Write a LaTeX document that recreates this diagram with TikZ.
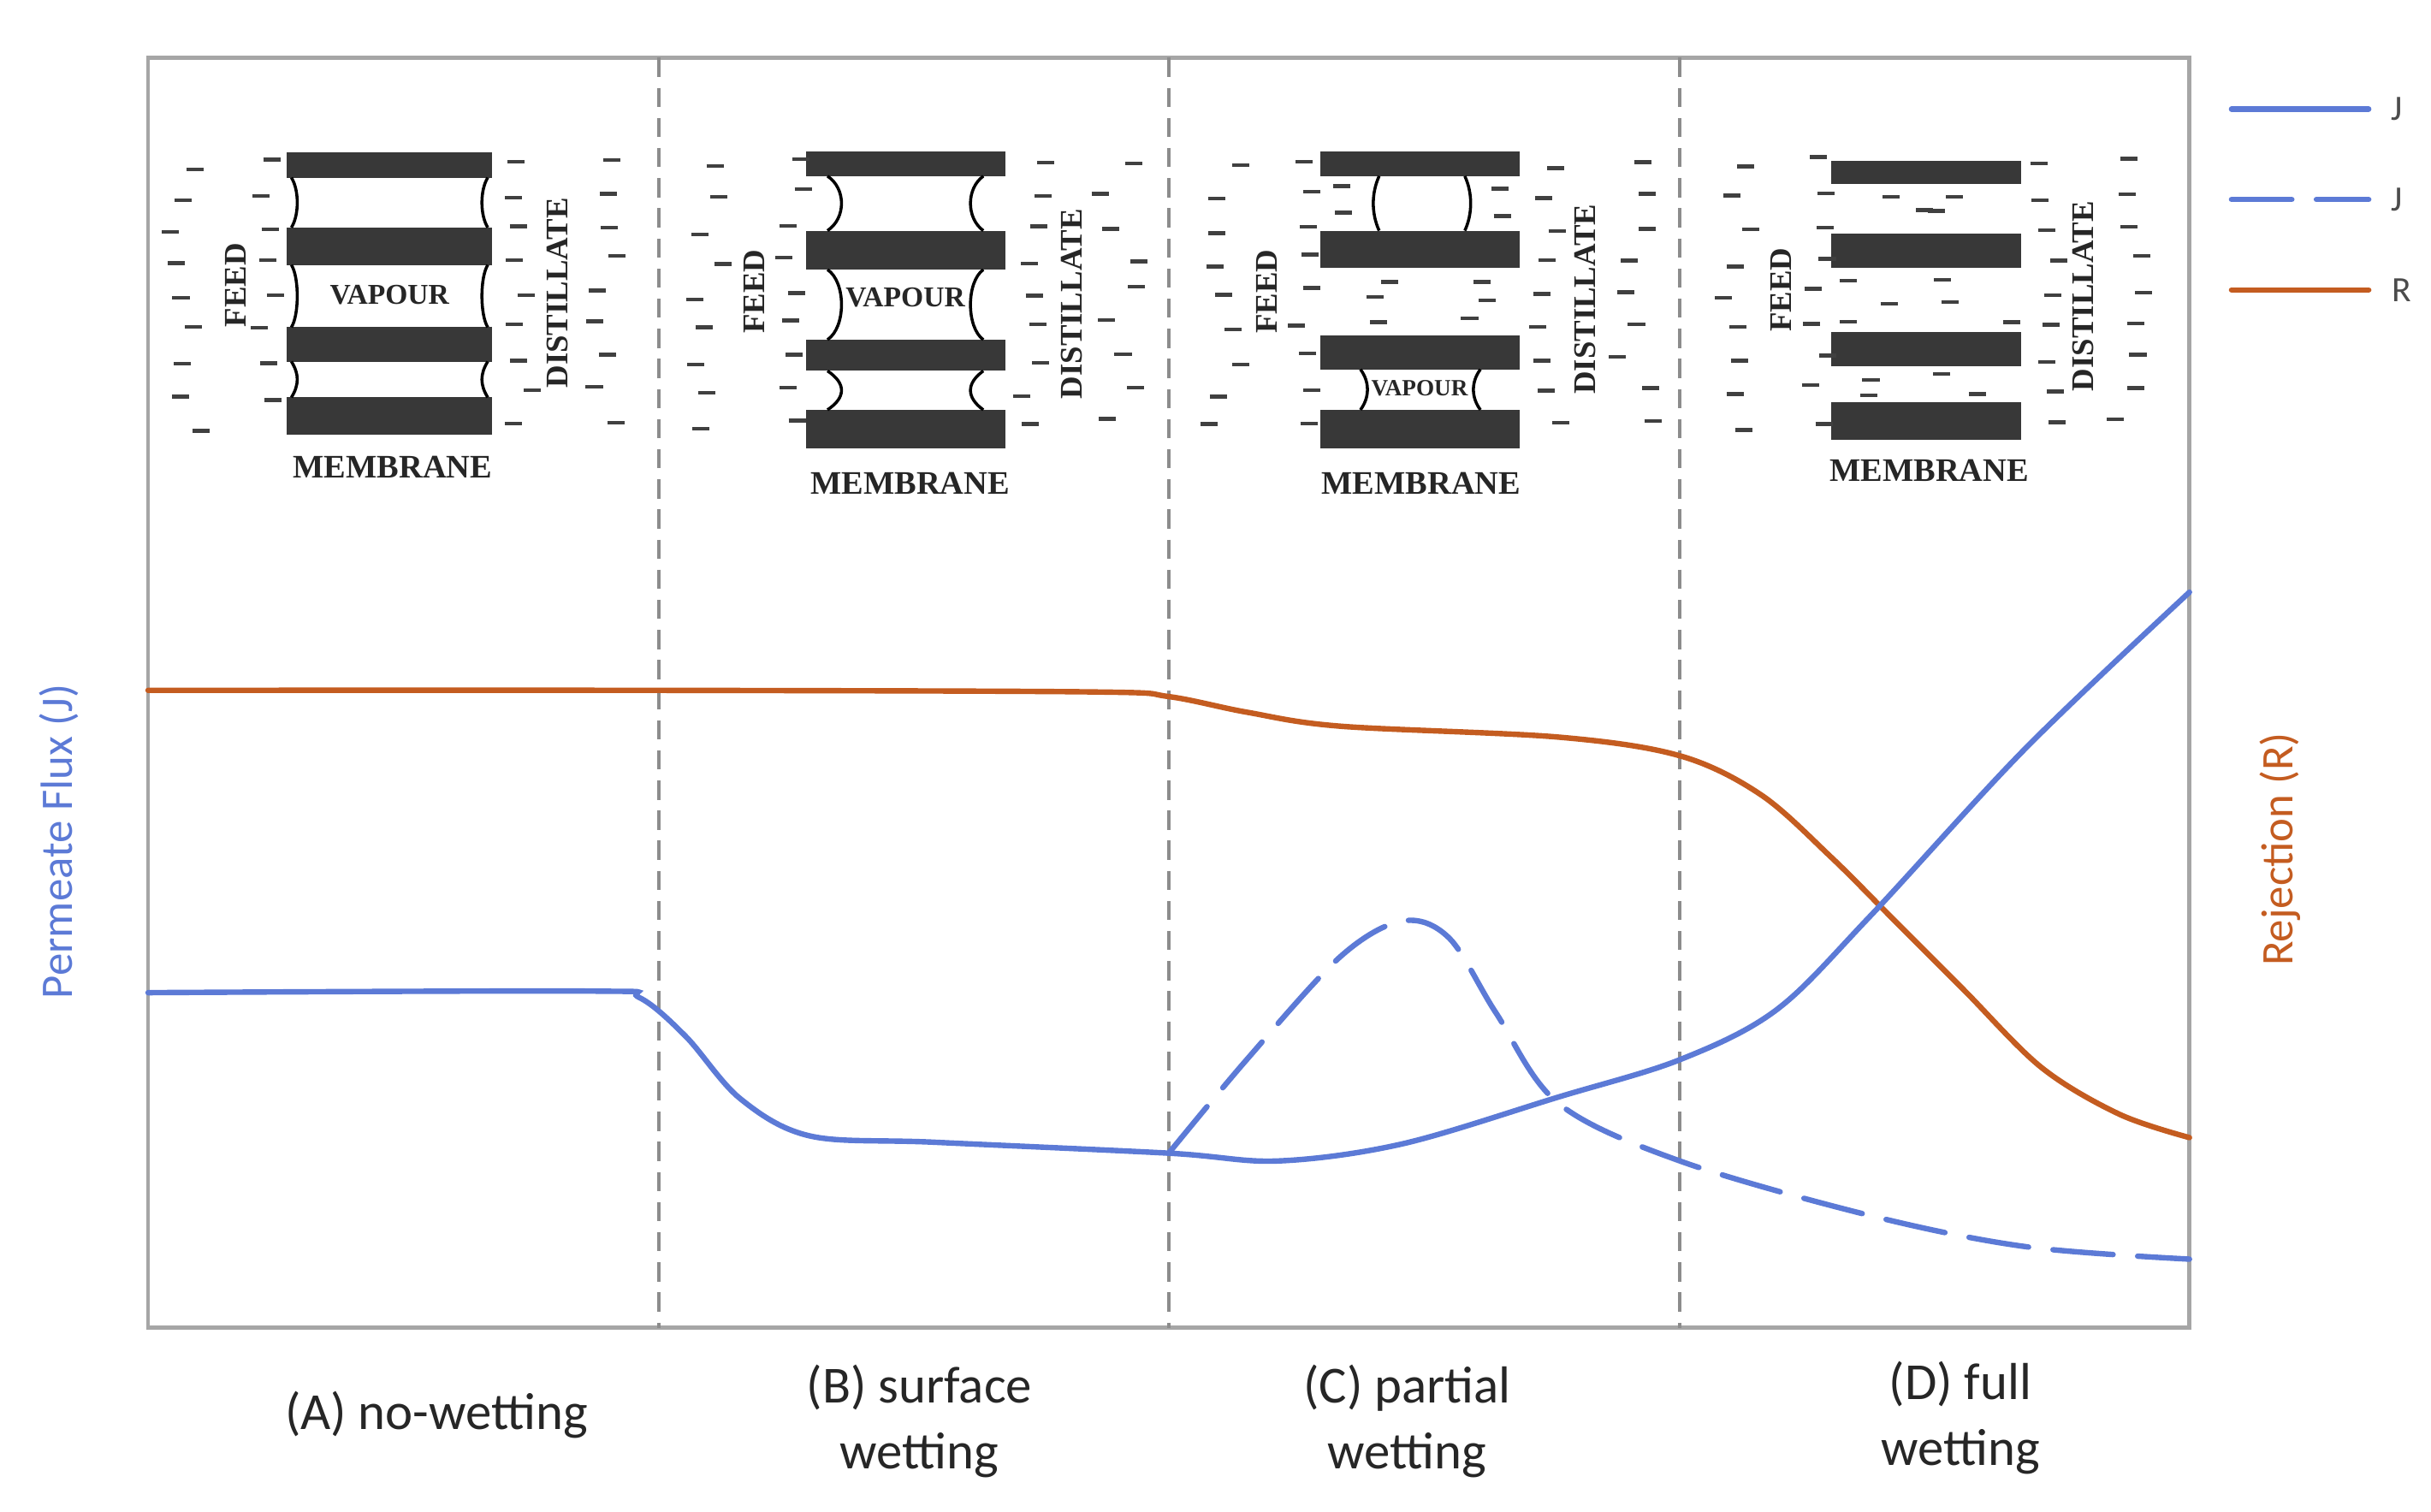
\documentclass[tikz,border=0pt]{standalone}
\usepackage{fontspec}
\setmainfont{Carlito}
\newfontfamily\mfont{Liberation Serif}
\begin{document}
\begin{tikzpicture}[x=0.02cm,y=-0.02cm,
  bar/.style={fill=black!78,draw=none},
  wall/.style={black,line width=1.1pt},
  dsh/.style={black!75,line width=1.4pt},
  mlab/.style={font=\mfont\bfseries\fontsize{12}{12}\selectfont,text=black!85},
  side/.style={font=\mfont\bfseries\fontsize{11.5}{12}\selectfont,text=black!85,rotate=90},
  divider/.style={black!45,line width=1.3pt,dash pattern=on 7pt off 4pt},
  curve/.style={line width=2pt,line cap=round},
  blab/.style={font=\fontsize{19}{24}\selectfont,align=center,text=black!85}]
\definecolor{jblue}{RGB}{92,122,214}
\definecolor{rorange}{RGB}{196,92,32}
\useasboundingbox (0,0) rectangle (1560,970);
% jittered rows of dashes: x1 x2 y1 y2 step
\newcommand\mydashes[5]{\foreach \yy in {#3,#4,...,#2}{}\pgfmathsetmacro\ystep{#3+#5}\foreach \yy in {#3,\ystep,...,#4}{\pgfmathsetmacro\px{#1+rnd*(#2-#1)}\pgfmathsetmacro\py{\yy+rnd*5}\draw[dsh] (\px,\py) -- ++(11,0);}}
\pgfmathsetseed{11}
% frame
\draw[black!35,line width=1.5pt] (95,37) rectangle (1405,852);
\foreach \xx in {423,750,1078}{\draw[divider] (\xx,37) -- (\xx,852);}
% ---------- Panel A
\foreach \ya/\yb in {98/114,146/170,210/232,255/279}{\fill[bar] (184,\ya) rectangle (316,\yb);}
\foreach \ya/\yb in {114/146,170/210,232/255}{
  \draw[wall] (187,\ya) .. controls (192,\ya+8) and (192,\yb-8) .. (187,\yb);
  \draw[wall] (313,\ya) .. controls (308,\ya+8) and (308,\yb-8) .. (313,\yb);}
\node[mlab,font=\mfont\bfseries\fontsize{10.5}{11}\selectfont] (va) at (250,189) {VAPOUR};
\node[mlab] (ma) at (252,300) {MEMBRANE};
\node[side] (fa) at (151,183) {FEED};
\node[side] (da) at (358,188) {DISTILLATE};
\mydashes{103}{128}{104}{274}{21}
\mydashes{160}{172}{100}{272}{22}
\mydashes{322}{338}{103}{274}{21}
\mydashes{370}{395}{100}{272}{21}
% ---------- Panel B
\foreach \ya/\yb in {97/113,148/173,218/238,263/288}{\fill[bar] (517,\ya) rectangle (645,\yb);}
\foreach \ya/\yb in {113/148,173/218,238/263}{
  \draw[wall] (531,\ya) .. controls (543,\ya+8) and (543,\yb-8) .. (531,\yb);
  \draw[wall] (631,\ya) .. controls (620,\ya+8) and (620,\yb-8) .. (631,\yb);}
\node[mlab,font=\mfont\bfseries\fontsize{10.5}{11}\selectfont] (vb) at (581,191) {VAPOUR};
\node[mlab] (mb) at (584,310) {MEMBRANE};
\node[side] (fb) at (484,187) {FEED};
\node[side] (db) at (688,195) {DISTILLATE};
\mydashes{440}{466}{104}{280}{21}
\mydashes{497}{512}{100}{278}{21}
\mydashes{650}{666}{103}{280}{21}
\mydashes{700}{726}{100}{278}{21}
% ---------- Panel C
\foreach \ya/\yb in {97/113,148/172,215/237,263/288}{\fill[bar] (847,\ya) rectangle (975,\yb);}
\draw[wall] (885,113) .. controls (880,124) and (880,137) .. (885,148);
\draw[wall] (940,113) .. controls (945,124) and (945,137) .. (940,148);
\draw[wall] (873,237) .. controls (879,245) and (879,255) .. (873,263);
\draw[wall] (950,237) .. controls (944,245) and (944,255) .. (950,263);
\node[mlab,font=\mfont\bfseries\fontsize{8.5}{9}\selectfont] (vc) at (911,249) {VAPOUR};
\node[mlab] (mc) at (912,310) {MEMBRANE};
\node[side] (fc) at (813,187) {FEED};
\node[side] (dc) at (1017,192) {DISTILLATE};
\mydashes{770}{796}{104}{280}{21}
\mydashes{826}{840}{100}{278}{21}
\mydashes{980}{996}{103}{280}{21}
\mydashes{1030}{1056}{100}{278}{21}
\mydashes{852}{900}{178}{206}{12}
\mydashes{905}{960}{180}{206}{12}
\mydashes{850}{862}{118}{140}{16}
\mydashes{952}{962}{118}{140}{16}
% ---------- Panel D
\foreach \ya/\yb in {103/118,150/172,213/235,258/282}{\fill[bar] (1175,\ya) rectangle (1297,\yb);}
\node[mlab] (md) at (1238,302) {MEMBRANE};
\node[side] (fd) at (1143,186) {FEED};
\node[side] (dd) at (1337,190) {DISTILLATE};
\mydashes{1100}{1126}{104}{280}{21}
\mydashes{1156}{1168}{100}{278}{21}
\mydashes{1302}{1316}{103}{280}{21}
\mydashes{1352}{1378}{100}{278}{21}
\mydashes{1180}{1230}{124}{142}{10}
\mydashes{1235}{1288}{124}{142}{10}
\mydashes{1180}{1230}{178}{205}{13}
\mydashes{1235}{1288}{178}{205}{13}
\mydashes{1180}{1230}{240}{250}{10}
\mydashes{1235}{1288}{240}{250}{10}
% ---------- curves
\draw[curve,rorange] plot[smooth,tension=0.55] coordinates {(95,443) (420,443) (700,444) (750,447) (800,457) (860,466) (1000,473) (1078,485) (1130,510) (1175,550) (1215,590) (1260,635) (1310,685) (1360,715) (1405,730)};
\draw[curve,jblue] plot[smooth,tension=0.55] coordinates {(95,637) (380,636) (410,640) (440,665) (475,705) (520,729) (600,733) (750,740) (820,745) (900,734) (1000,704) (1078,680) (1140,648) (1200,588) (1300,480) (1405,380)};
\draw[curve,jblue,dash pattern=on 22pt off 9pt] plot[smooth,tension=0.55] coordinates {(750,740) (800,680) (860,614) (900,591) (930,602) (960,650) (1000,708) (1078,745) (1200,780) (1300,800) (1405,808)};
% ---------- legend
\coordinate (l1a) at (1432,70); \coordinate (l1b) at (1520,70);
\coordinate (l2a) at (1432,128); \coordinate (l2b) at (1520,128);
\coordinate (l3a) at (1432,186); \coordinate (l3b) at (1520,186);
\draw[curve,jblue] (l1a) -- (l1b);
\draw[curve,jblue,dash pattern=on 22pt off 9pt] (l2a) -- (l2b);
\draw[curve,rorange] (l3a) -- (l3b);
\node[font=\fontsize{13}{14}\selectfont,text=black!70] (lj1) at (1538,70) {J};
\node[font=\fontsize{13}{14}\selectfont,text=black!70] (lj2) at (1538,128) {J};
\node[font=\fontsize{13}{14}\selectfont,text=black!70] (lr) at (1541,186) {R};
% ---------- axis labels
\node[rotate=90,text=jblue,font=\fontsize{16.5}{18}\selectfont] (ylab) at (38,540) {Permeate Flux (J)};
\node[rotate=90,text=rorange,font=\fontsize{16.5}{18}\selectfont] (rlab) at (1463,545) {Rejection (R)};
% ---------- bottom labels
\node[blab] (la) at (280,908) {(A) no-wetting};
\node[blab] (lb) at (590,912) {(B) surface\\wetting};
\node[blab] (lc) at (903,912) {(C) partial\\wetting};
\node[blab] (ld) at (1258,910) {(D) full\\wetting};
\end{tikzpicture}
\end{document}
